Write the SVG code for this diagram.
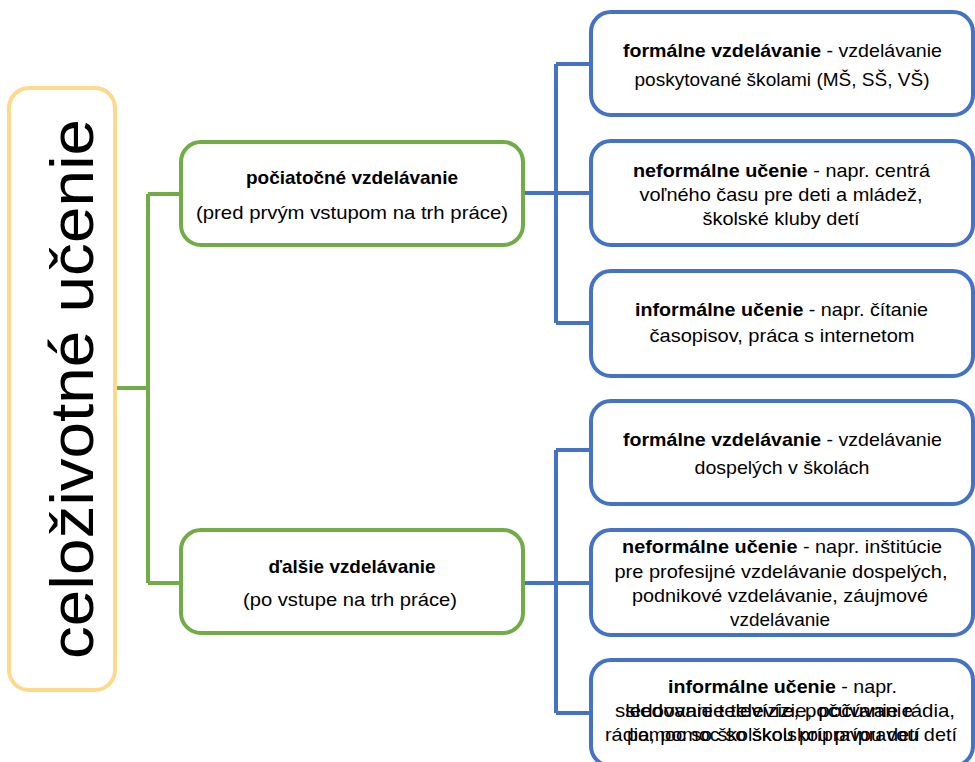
<svg xmlns="http://www.w3.org/2000/svg" width="975" height="762" viewBox="0 0 975 762">
<style>
  text { font-family: "Liberation Sans", Arial, sans-serif; fill: #000; font-size: 18.5px; }
  .root { fill: #fff; stroke: #FFD98A; stroke-width: 4; }
  .lvl1 { fill: #fff; stroke: #70AD47; stroke-width: 4; }
  .lvl2 { fill: #fff; stroke: #4472C4; stroke-width: 4; }
  .g { fill: none; stroke: #70AD47; stroke-width: 4; }
  .b { fill: none; stroke: #4472C4; stroke-width: 4; }
  .t { text-anchor: middle; }
  .tb { font-weight: bold; }
  .big { font-size: 62px; text-anchor: middle; }
</style>
<rect width="975" height="762" fill="#fff"/>
<g id="connectors">
  <path class="g" d="M115 388 H148 M148 194 V583 M148 194 H182 M148 583 H182"/>
  <path class="b" d="M523 193 H556 M556 64 V323 M556 64 H591 M556 193 H591 M556 323 H591"/>
  <path class="b" d="M523 583 H556 M556 450 V713 M556 450 H591 M556 583 H591 M556 713 H591"/>
</g>
<g id="root">
  <rect class="root" x="9" y="88" width="106" height="602" rx="20"/>
  <text class="big" transform="translate(93 389) rotate(-90)" textLength="540" lengthAdjust="spacingAndGlyphs">celoživotné učenie</text>
</g>
<g id="pociatocne">
  <rect class="lvl1" x="181" y="142" width="342" height="103" rx="20"/>
  <text class="t tb" x="352" y="184" textLength="212" lengthAdjust="spacingAndGlyphs">počiatočné vzdelávanie</text>
  <text class="t" x="352" y="219" textLength="312" lengthAdjust="spacingAndGlyphs">(pred prvým vstupom na trh práce)</text>
</g>
<g id="dalsie">
  <rect class="lvl1" x="181" y="530" width="342" height="103" rx="20"/>
  <text class="t tb" x="352" y="573" textLength="167" lengthAdjust="spacingAndGlyphs">ďalšie vzdelávanie</text>
  <text class="t" x="350" y="606" textLength="214" lengthAdjust="spacingAndGlyphs">(po vstupe na trh práce)</text>
</g>
<g id="formalne1">
  <rect class="lvl2" x="591" y="12" width="382" height="103" rx="20"/>
  <text x="623" y="57" textLength="319" lengthAdjust="spacingAndGlyphs"><tspan class="tb">formálne vzdelávanie</tspan> - vzdelávanie</text>
  <text class="t" x="782" y="86" textLength="295" lengthAdjust="spacingAndGlyphs">poskytované školami (MŠ, SŠ, VŠ)</text>
</g>
<g id="neformalne1">
  <rect class="lvl2" x="591" y="141" width="382" height="104" rx="20"/>
  <text x="633" y="177" textLength="297" lengthAdjust="spacingAndGlyphs"><tspan class="tb">neformálne učenie</tspan> - napr. centrá</text>
  <text class="t" x="781" y="201" textLength="283" lengthAdjust="spacingAndGlyphs">voľného času pre deti a mládež,</text>
  <text class="t" x="781" y="225" textLength="157" lengthAdjust="spacingAndGlyphs">školské kluby detí</text>
</g>
<g id="informalne1">
  <rect class="lvl2" x="591" y="271" width="382" height="105" rx="20"/>
  <text x="635" y="316" textLength="293" lengthAdjust="spacingAndGlyphs"><tspan class="tb">informálne učenie</tspan> - napr. čítanie</text>
  <text class="t" x="782" y="342" textLength="265" lengthAdjust="spacingAndGlyphs">časopisov, práca s internetom</text>
</g>
<g id="formalne2">
  <rect class="lvl2" x="591" y="401" width="382" height="103" rx="20"/>
  <text x="623" y="446" textLength="319" lengthAdjust="spacingAndGlyphs"><tspan class="tb">formálne vzdelávanie</tspan> - vzdelávanie</text>
  <text class="t" x="782" y="474" textLength="175" lengthAdjust="spacingAndGlyphs">dospelých v školách</text>
</g>
<g id="neformalne2">
  <rect class="lvl2" x="591" y="530" width="382" height="105" rx="20"/>
  <text x="622" y="553" textLength="320" lengthAdjust="spacingAndGlyphs"><tspan class="tb">neformálne učenie</tspan> - napr. inštitúcie</text>
  <text class="t" x="781" y="578" textLength="333" lengthAdjust="spacingAndGlyphs">pre profesijné vzdelávanie dospelých,</text>
  <text class="t" x="780" y="602" textLength="296" lengthAdjust="spacingAndGlyphs">podnikové vzdelávanie, záujmové</text>
  <text class="t" x="780" y="626" textLength="100" lengthAdjust="spacingAndGlyphs">vzdelávanie</text>
</g>
<g id="informalne2">
  <rect class="lvl2" x="591" y="660" width="382" height="106" rx="20"/>
  <text x="668" y="693" textLength="229" lengthAdjust="spacingAndGlyphs"><tspan class="tb">informálne učenie</tspan> - napr.</text>
  <text x="615" y="717" textLength="340" lengthAdjust="spacingAndGlyphs">sledovanie televízie, počúvanie rádia,</text>
  <text x="625" y="717" textLength="288" lengthAdjust="spacingAndGlyphs">sledovanie televízie, počúvanie</text>
  <text x="605" y="741" textLength="352" lengthAdjust="spacingAndGlyphs">rádia, pomoc so školskou prípravou detí</text>
  <text x="627" y="741" textLength="293" lengthAdjust="spacingAndGlyphs">pomoc so školskou prípravou detí</text>
</g>
</svg>
